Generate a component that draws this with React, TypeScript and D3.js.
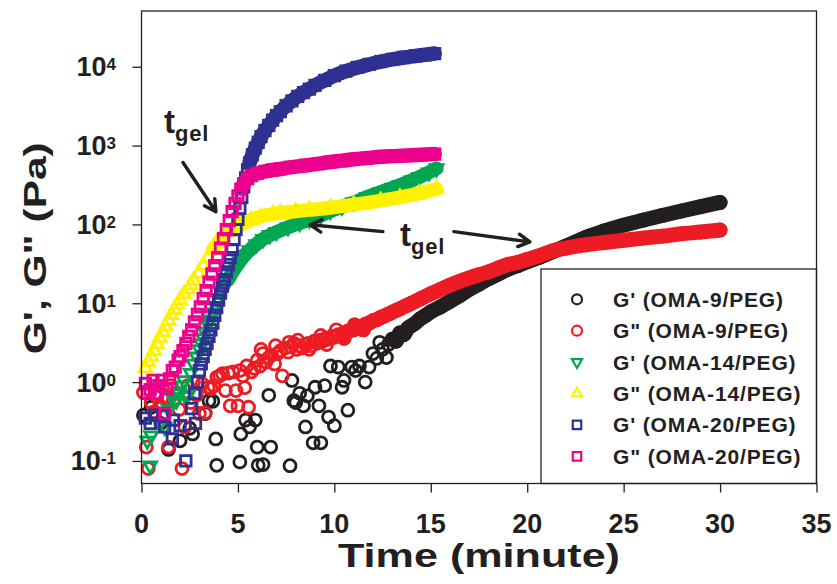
import * as d3 from 'd3';
import React, { useRef, useEffect } from 'react';

// [time (minute), modulus (Pa)]
const gp9: [number, number][] = [
  [0.1, 0.38], [0.5, 0.48], [1.0, 0.3], [1.4, 0.14], [2.0, 0.18], [2.5, 0.26], [2.65, 0.22], [3.3, 0.4],
  [3.5, 0.58], [3.7, 0.57], [3.85, 0.19], [3.9, 0.088], [5.1, 0.097], [5.15, 0.22], [5.4, 0.33], [5.6, 0.27],
  [5.9, 0.33], [6.0, 0.15], [6.05, 0.088], [6.3, 0.09], [6.6, 0.68], [6.7, 0.15], [7.7, 0.087], [7.8, 1.05],
  [7.9, 0.58], [8.0, 0.55], [8.2, 0.72], [8.4, 0.5], [8.5, 0.27], [8.6, 0.67], [8.9, 0.17], [9.0, 0.86],
  [9.2, 0.5], [9.3, 0.17], [9.5, 0.9], [9.7, 0.36], [9.8, 1.6], [10.0, 0.28], [10.2, 1.55], [10.4, 0.86],
  [10.5, 1.05], [10.7, 0.44], [10.9, 1.55], [11.1, 1.4], [11.3, 1.6], [11.6, 1.0], [11.8, 1.55], [12.0, 2.3],
  [12.2, 2.0], [12.35, 3.2], [12.5, 2.6], [12.7, 2.05], [12.8, 3.0], [13.0, 3.5], [13.2, 3.3], [13.4, 4.2],
  [13.6, 4.0], [13.8, 4.8], [14.0, 5.2], [14.2, 5.6], [14.4, 6.2], [14.6, 6.7], [14.8, 7.2], [15.0, 7.8],
  [15.5, 9], [16, 10.6], [16.5, 12.5], [17, 15], [17.5, 17.5], [18, 20.5], [18.5, 23.5], [19, 27],
  [19.5, 30], [20, 33.5], [20.6, 38], [21.3, 45], [22, 53], [23, 68], [24, 83], [25, 98],
  [26, 113], [27, 130], [28, 148], [29, 168], [30, 190],
];

const gpp9: [number, number][] = [
  [0.1, 0.74], [0.25, 0.15], [0.35, 0.08], [0.5, 0.55], [0.65, 0.42], [0.8, 0.65], [0.95, 0.5], [1.1, 0.86],
  [1.25, 0.62], [1.4, 0.15], [1.5, 0.9], [1.65, 0.58], [1.8, 0.72], [1.95, 0.45], [2.1, 0.08], [2.25, 0.27],
  [2.4, 0.9], [2.55, 0.55], [2.7, 1.0], [2.85, 0.68], [3.0, 0.4], [3.15, 0.95], [3.3, 0.41], [3.45, 0.86],
  [3.6, 0.83], [3.75, 0.9], [3.9, 1.15], [4.05, 1.2], [4.2, 1.28], [4.35, 0.78], [4.5, 1.3], [4.6, 0.5],
  [4.75, 1.35], [4.9, 0.78], [5.0, 0.5], [5.1, 1.4], [5.25, 1.2], [5.35, 0.85], [5.45, 1.6], [5.55, 0.48],
  [5.7, 1.35], [5.85, 1.5], [6.0, 1.9], [6.15, 1.6], [6.2, 2.6], [6.3, 2.3], [6.45, 1.8], [6.6, 2.05],
  [6.75, 2.2], [6.9, 1.7], [6.95, 2.9], [7.05, 2.3], [7.2, 2.5], [7.3, 1.2], [7.45, 2.7], [7.6, 2.4],
  [7.65, 3.2], [7.75, 2.8], [7.9, 3.1], [8.05, 2.6], [8.1, 3.4], [8.2, 2.9], [8.35, 2.7], [8.5, 3.0],
  [8.65, 3.1], [8.7, 2.6], [8.8, 2.9], [8.95, 3.3], [9.1, 3.1], [9.25, 3.4], [9.3, 3.9], [9.4, 3.3],
  [9.55, 3.6], [9.6, 3.0], [9.7, 3.5], [9.85, 3.8], [10.0, 3.7], [10.1, 4.6], [10.2, 4.0], [10.4, 4.1],
  [10.5, 3.6], [10.6, 4.3], [10.8, 4.5], [11.0, 4.6], [11.05, 5.3], [11.2, 5.0], [11.4, 5.1], [11.5, 4.6],
  [11.6, 5.4], [11.8, 5.6], [12.0, 6.0], [12.2, 6.2], [12.4, 6.6], [12.6, 6.9], [12.8, 7.3], [13.0, 7.7],
  [13.2, 8.1], [13.4, 8.5], [13.6, 9.0], [13.8, 9.5], [14.0, 10], [14.5, 11.5], [15, 13.2], [15.5, 15],
  [16, 17], [16.5, 19], [17, 21], [17.5, 23], [18, 25], [18.5, 28], [19, 31], [19.5, 33],
  [20, 36], [20.6, 40], [21.3, 46], [22, 50], [23, 55], [24, 59], [25, 63], [26, 67],
  [27, 71], [28, 76], [29, 80], [30, 85],
];

const gp14: [number, number][] = [
  [0.3, 0.18], [0.45, 0.087], [0.5, 0.21], [0.95, 0.3], [1.2, 0.27], [1.4, 0.45], [1.6, 0.64], [1.8, 0.58],
  [1.95, 0.72], [2.1, 0.9], [2.2, 1.05], [2.3, 0.66], [2.4, 0.68], [2.55, 1.3], [2.7, 1.7], [2.85, 2.1],
  [3.0, 2.6], [3.1, 3.1], [3.2, 3.6], [3.3, 4.3], [3.45, 5.3], [3.55, 6.2], [3.7, 7.6], [3.85, 9.2],
  [4.0, 11], [4.15, 13.5], [4.3, 16], [4.5, 20], [4.7, 24.5], [4.9, 29], [5.1, 34], [5.35, 41],
  [5.6, 47], [5.95, 56], [6.3, 65], [6.65, 73], [7.0, 80], [7.6, 92], [8.2, 104], [8.7, 115],
  [9.3, 130], [9.8, 148], [10.4, 168], [11, 190], [11.7, 222], [12.4, 257], [13, 290], [13.4, 316],
  [14, 360], [14.4, 398], [14.9, 455], [15.3, 513],
];

const gpp14: [number, number][] = [
  [0.2, 1.5], [0.35, 1.8], [0.5, 2.1], [0.65, 2.5], [0.8, 3.0], [0.95, 3.6], [1.1, 4.3], [1.25, 5.1],
  [1.4, 6.0], [1.55, 7.1], [1.7, 8.3], [1.85, 9.6], [2.0, 11], [2.2, 13], [2.4, 15], [2.55, 17],
  [2.7, 19.5], [2.95, 24], [3.2, 30], [3.45, 38], [3.7, 48], [3.95, 58], [4.2, 70], [4.45, 80],
  [4.7, 88], [4.95, 95], [5.2, 102], [5.7, 115], [6.2, 126], [6.8, 135], [7.2, 140], [8, 147],
  [8.7, 153], [9.8, 163], [11, 178], [12.4, 200], [13.4, 220], [14.4, 248], [15.3, 280],
];

const gp20: [number, number][] = [
  [0.2, 0.35], [0.45, 0.3], [0.7, 0.38], [1.1, 0.38], [1.2, 0.27], [1.6, 0.19], [1.65, 0.33], [2.0, 0.28],
  [2.3, 0.1], [2.6, 0.46], [2.75, 0.72], [2.8, 0.3], [2.9, 1.0], [3.0, 1.4], [3.1, 1.7], [3.2, 2.1],
  [3.3, 2.6], [3.4, 3.1], [3.5, 3.8], [3.6, 4.6], [3.7, 5.6], [3.8, 7], [3.9, 8.8], [4.0, 11],
  [4.1, 13.5], [4.2, 16.5], [4.3, 20], [4.4, 25], [4.5, 31], [4.6, 38], [4.7, 48], [4.8, 64],
  [4.9, 86], [5.0, 116], [5.1, 160], [5.2, 220], [5.3, 300], [5.4, 390], [5.5, 490], [5.6, 600],
  [5.75, 760], [5.9, 930], [6.05, 1100], [6.2, 1300], [6.4, 1550], [6.6, 1800], [6.8, 2100], [7.0, 2400],
  [7.2, 2700], [7.5, 3200], [7.8, 3700], [8.1, 4200], [8.4, 4700], [8.7, 5200], [9.0, 5800], [9.5, 6700],
  [10.0, 7700], [10.6, 8800], [11.2, 9800], [11.8, 10700], [12.4, 11600], [13.0, 12400], [13.6, 13100],
  [14.2, 13700], [14.7, 14200], [15.2, 14700],
];

const gpp20: [number, number][] = [
  [0.2, 0.96], [0.3, 0.72], [0.45, 0.8], [0.6, 1.05], [0.75, 0.72], [0.9, 0.9], [1.05, 1.05], [1.2, 0.4],
  [1.3, 0.83], [1.45, 1.1], [1.6, 1.4], [1.75, 1.55], [1.9, 1.9], [2.0, 2.1], [2.15, 2.5], [2.3, 3.1],
  [2.45, 3.8], [2.6, 4.6], [2.75, 5.8], [2.9, 7.2], [3.05, 9], [3.2, 11.5], [3.35, 14.5], [3.5, 18.5],
  [3.65, 23.5], [3.8, 30], [3.95, 38], [4.1, 50], [4.25, 66], [4.4, 86], [4.55, 112], [4.7, 145],
  [4.85, 185], [5.0, 230], [5.15, 280], [5.3, 330], [5.5, 380], [5.7, 415], [6.0, 445], [6.4, 470],
  [6.8, 490], [7.2, 505], [7.7, 530], [8.5, 560], [9.2, 590], [9.8, 620], [10.4, 645], [11, 670],
  [11.7, 695], [12.4, 720], [13.1, 735], [13.8, 750], [14.5, 765], [15.2, 780],
];

const legendLabels = [
  "G' (OMA-9/PEG)",
  'G" (OMA-9/PEG)',
  "G' (OMA-14/PEG)",
  'G" (OMA-14/PEG)',
  "G' (OMA-20/PEG)",
  'G" (OMA-20/PEG)',
];
const xTicks = [0, 5, 10, 15, 20, 25, 30, 35];
const yTickExps = [-1, 0, 1, 2, 3, 4];

const INK = '#231f20';
const FONT = '"Liberation Sans", Arial, sans-serif';

export default function App() {
  const ref = useRef<SVGSVGElement>(null);

  useEffect(() => {
    const svg = d3.select(ref.current);
    svg.selectAll('*').remove();

    const left = 141.5, right = 816.5, top = 11, bottom = 483.5;
    const x = d3.scaleLinear().domain([0, 35]).range([left, right]);
    const y = d3.scaleLog().domain([Math.pow(10, -1.286), Math.pow(10, 4.707)]).range([bottom, top]);

    const shapes: Record<string, { type: d3.SymbolType; size: number; rot: number; band: number }> = {
      circle: { type: d3.symbolCircle, size: Math.PI * 6 * 6, rot: 0, band: 15 },
      triDown: { type: d3.symbolTriangle, size: 72, rot: 180, band: 14 },
      triUp: { type: d3.symbolTriangle, size: 72, rot: 0, band: 14 },
      square: { type: d3.symbolSquare, size: 110, rot: 0, band: 14.5 },
    };

    const series = [
      { data: gp9, color: INK, shape: 'circle', bandFrom: 13 },
      { data: gpp9, color: '#ed1c24', shape: 'circle', bandFrom: 10.5 },
      { data: gp14, color: '#00a651', shape: 'triDown', bandFrom: 4.5 },
      { data: gpp14, color: '#fff200', shape: 'triUp', bandFrom: 3.5 },
      { data: gp20, color: '#2e3192', shape: 'square', bandFrom: 5.6 },
      { data: gpp20, color: '#ec008c', shape: 'square', bandFrom: 5.3 },
    ];

    const plot = svg.append('g');
    series.forEach(s => {
      const sh = shapes[s.shape];
      // dense stretches of overlapping markers read as a solid band
      const band = d3.line<[number, number]>()
        .x(d => x(d[0]))
        .y(d => y(d[1]))
        .curve(d3.curveMonotoneX);
      plot.append('path')
        .attr('d', band(s.data.filter(d => d[0] >= s.bandFrom)))
        .attr('fill', 'none')
        .attr('stroke', s.color)
        .attr('stroke-width', sh.band)
        .attr('stroke-linecap', 'round')
        .attr('stroke-linejoin', 'round');
      const sym = d3.symbol().type(sh.type).size(sh.size);
      plot.append('g').selectAll('path')
        .data(s.data)
        .join('path')
        .attr('d', sym() as string)
        .attr('transform', d => `translate(${x(d[0])},${y(d[1])}) rotate(${sh.rot})`)
        .attr('fill', 'none')
        .attr('stroke', s.color)
        .attr('stroke-width', 2.8);
    });

    // legend
    const lg = svg.append('g');
    lg.append('rect')
      .attr('x', 541).attr('y', 269)
      .attr('width', right - 541).attr('height', bottom - 269)
      .attr('fill', '#fff').attr('stroke', INK).attr('stroke-width', 1.3);
    const legendShapes: Record<string, { type: d3.SymbolType; size: number; rot: number }> = {
      circle: { type: d3.symbolCircle, size: Math.PI * 25, rot: 0 },
      triDown: { type: d3.symbolTriangle, size: 45, rot: 180 },
      triUp: { type: d3.symbolTriangle, size: 45, rot: 0 },
      square: { type: d3.symbolSquare, size: 72, rot: 0 },
    };
    series.forEach((s, i) => {
      const cy = 299.3 + i * 31.4;
      const ls = legendShapes[s.shape];
      lg.append('path')
        .attr('d', d3.symbol().type(ls.type).size(ls.size)() as string)
        .attr('transform', `translate(577,${cy}) rotate(${ls.rot})`)
        .attr('fill', 'none').attr('stroke', s.color).attr('stroke-width', 2.2);
      lg.append('text')
        .attr('x', 613).attr('y', cy + 7.5)
        .attr('font-family', FONT).attr('font-weight', 'bold').attr('font-size', 21)
        .attr('letter-spacing', 0.85).attr('fill', INK)
        .text(legendLabels[i]);
    });

    // frame
    svg.append('rect')
      .attr('x', left).attr('y', top)
      .attr('width', right - left).attr('height', bottom - top)
      .attr('fill', 'none').attr('stroke', INK).attr('stroke-width', 1.3);

    // x axis
    const xAxis = d3.axisBottom(x).tickValues(xTicks).tickSize(9).tickSizeOuter(0).tickFormat(() => '');
    const gx = svg.append('g').attr('transform', `translate(0,${bottom})`).call(xAxis);
    gx.select('.domain').remove();
    gx.selectAll('line').attr('stroke', INK).attr('stroke-width', 1.3);
    svg.append('g').selectAll('text')
      .data(xTicks)
      .join('text')
      .attr('x', d => x(d)).attr('y', 533)
      .attr('text-anchor', 'middle')
      .attr('font-family', FONT).attr('font-weight', 'bold').attr('font-size', 27)
      .attr('fill', INK)
      .text(d => d);

    // y axis
    const yAxis = d3.axisLeft(y).tickValues(yTickExps.map(e => Math.pow(10, e))).tickSize(9).tickSizeOuter(0).tickFormat(() => '');
    const gy = svg.append('g').attr('transform', `translate(${left},0)`).call(yAxis);
    gy.select('.domain').remove();
    gy.selectAll('line').attr('stroke', INK).attr('stroke-width', 1.3);
    const yl = svg.append('g').selectAll('text')
      .data(yTickExps)
      .join('text')
      .attr('x', 116).attr('y', d => y(Math.pow(10, d)) + 9.5)
      .attr('text-anchor', 'end')
      .attr('font-family', FONT).attr('font-weight', 'bold').attr('font-size', 27)
      .attr('fill', INK);
    yl.append('tspan').text('10');
    yl.append('tspan').attr('font-size', 17).attr('dy', -6).text(d => d);

    // axis titles
    svg.append('text')
      .attr('x', (left + right) / 2).attr('y', 567)
      .attr('text-anchor', 'middle')
      .attr('font-family', FONT).attr('font-weight', 'bold').attr('font-size', 33)
      .attr('textLength', 282).attr('lengthAdjust', 'spacingAndGlyphs')
      .attr('fill', INK)
      .text('Time (minute)');
    svg.append('text')
      .attr('transform', `translate(46,${(top + bottom) / 2 + 1}) rotate(-90)`)
      .attr('text-anchor', 'middle')
      .attr('font-family', FONT).attr('font-weight', 'bold').attr('font-size', 32)
      .attr('textLength', 212).attr('lengthAdjust', 'spacingAndGlyphs')
      .attr('fill', INK)
      .text('G\', G" (Pa)');

    // t_gel annotations (data coordinates)
    const labels: [number, number][] = [[1.17, 1460], [13.4, 54]];
    labels.forEach(([t, v]) => {
      const tx = svg.append('text')
        .attr('x', x(t)).attr('y', y(v))
        .attr('font-family', FONT).attr('font-weight', 'bold').attr('fill', INK);
      tx.append('tspan').attr('font-size', 33).text('t');
      tx.append('tspan').attr('font-size', 22).attr('dy', 8).attr('letter-spacing', 0.8).text('gel');
    });
    const arrows: [[number, number], [number, number]][] = [
      [[2.15, 610], [3.86, 145]],
      [[12.52, 81], [8.74, 99]],
      [[16.2, 81], [20.14, 60]],
    ];
    arrows.forEach(([a, b]) => {
      const x1 = x(a[0]), y1 = y(a[1]), x2 = x(b[0]), y2 = y(b[1]);
      const ang = Math.atan2(y2 - y1, x2 - x1);
      const hl = 13, ha = 0.5;
      const p = d3.path();
      p.moveTo(x1, y1); p.lineTo(x2, y2);
      p.moveTo(x2 - hl * Math.cos(ang - ha), y2 - hl * Math.sin(ang - ha));
      p.lineTo(x2, y2);
      p.lineTo(x2 - hl * Math.cos(ang + ha), y2 - hl * Math.sin(ang + ha));
      svg.append('path')
        .attr('d', p.toString())
        .attr('fill', 'none').attr('stroke', INK).attr('stroke-width', 3.4)
        .attr('stroke-linecap', 'round').attr('stroke-linejoin', 'round');
    });
  }, []);

  return (
    <svg
      ref={ref}
      width={837}
      height={584}
      style={{ position: 'absolute', left: 0, top: 0, background: '#fff' }}
    />
  );
}
